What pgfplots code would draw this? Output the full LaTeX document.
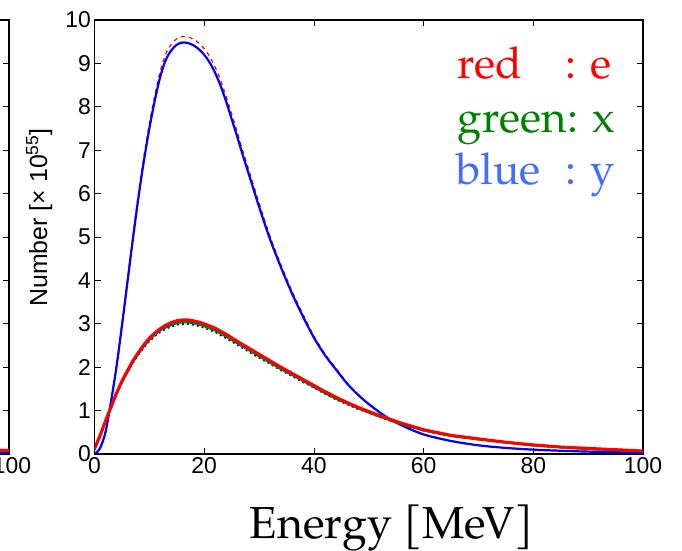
\documentclass[border=0pt]{standalone}
\usepackage{pgfplots}
\pgfplotsset{compat=1.18}
\usepackage{fontspec}
\setmainfont{TeX Gyre Pagella}
\setsansfont{Liberation Sans}
\definecolor{legblue}{RGB}{64,110,255}
\definecolor{leggreen}{RGB}{0,128,0}
\definecolor{pblue}{RGB}{0,0,255}
\definecolor{pred}{RGB}{255,0,0}
\begin{document}
\begin{tikzpicture}
\useasboundingbox (0,0) rectangle (682bp,551bp);
\pgfplotsset{
  mystyle/.style={
    scale only axis, width=548.5bp, height=434bp,
    xmin=0,xmax=100,ymin=0,ymax=10,
    xtick={0,20,...,100}, ytick={0,1,...,10},
    tick align=inside, major tick length=6bp,
    every tick/.style={black, line width=0.8bp},
    axis line style={line width=1.2bp},
    tick label style={font=\fontsize{23}{23}\selectfont\sffamily},
    /pgf/number format/assume math mode=true,
    clip=true,
  }
}
% partial neighbouring panel on the left
\begin{axis}[mystyle, at={(9bp,97bp)}, anchor=south east,
  yticklabels={}, xticklabels={,,,,,100}, xticklabel style={xshift=3bp}]
\addplot[pblue, line width=2.2bp] coordinates {(80,0.1) (90,0.055) (100,0.03)};
\addplot[pred, line width=3bp] coordinates {(80,0.21) (90,0.13) (100,0.08)};
\end{axis}
% main panel
\begin{axis}[mystyle, at={(94.5bp,97bp)}, anchor=south west,
  xlabel={Energy [MeV]},
  ylabel={Number [× 10\textsuperscript{55}]},
  xlabel style={at={(axis description cs:0.542,0)}, anchor=base, yshift=-84bp, font=\fontsize{45}{45}\selectfont},
  ylabel style={at={(axis description cs:-0.101,0.545)}, anchor=center, font=\fontsize{25}{25}\selectfont\sffamily},
]
% red dashed (upper)
\addplot[pred, line width=1.2bp, dash pattern=on 4bp off 4bp, smooth] coordinates {
(0,0) (1,0.13) (2,0.51) (3,1.22) (4,2.03) (5,2.99) (6,4.01) (7,5.02) (8,5.99) (9,6.85)
(10,7.61) (11,8.27) (12,8.83) (13,9.22) (14,9.44) (15,9.57) (16,9.62) (17,9.61) (18,9.56) (19,9.47)
(20,9.34) (21,9.16) (22,8.91) (23,8.61) (24,8.24) (25,7.84) (26,7.43) (27,7.0) (28,6.6) (30,5.79)
(32,5.02) (34,4.36) (36,3.76) (38,3.22) (40,2.72) (42,2.31) (44,1.98) (46,1.65) (48,1.38) (50,1.16)
(53,0.88) (56,0.67) (60,0.46) (65,0.3) (70,0.2) (75,0.14) (80,0.1) (90,0.055) (100,0.03)};
% blue solid (upper)
\addplot[pblue, line width=2.2bp, smooth] coordinates {
(0,0) (1,0.13) (2,0.5) (3,1.2) (4,2.0) (5,2.95) (6,3.95) (7,4.95) (8,5.9) (9,6.75)
(10,7.5) (11,8.15) (12,8.7) (13,9.08) (14,9.3) (15,9.43) (16,9.48) (17,9.47) (18,9.42) (19,9.33)
(20,9.2) (21,9.02) (22,8.78) (23,8.48) (24,8.12) (25,7.72) (26,7.32) (27,6.9) (28,6.5) (30,5.7)
(32,4.95) (34,4.3) (36,3.7) (38,3.17) (40,2.68) (42,2.28) (44,1.95) (46,1.63) (48,1.37) (50,1.15)
(53,0.87) (56,0.66) (60,0.45) (65,0.3) (70,0.2) (75,0.14) (80,0.1) (85,0.075) (90,0.055) (95,0.04) (100,0.03)};
% blue dashed (lower)
\addplot[pblue, line width=2bp, dash pattern=on 2bp off 3bp] coordinates {
(0,0.1) (1,0.4) (2,0.74) (3,1.06) (4,1.37) (5,1.65) (6,1.88) (7,2.1) (8,2.29) (9,2.45)
(10,2.6) (11,2.72) (12,2.82) (13,2.88) (14,2.94) (15,2.98) (16,3.0) (17,3.0) (18,2.98) (19,2.95)
(20,2.91) (22,2.81) (24,2.67) (26,2.52) (28,2.37) (30,2.22) (32,2.08) (34,1.93) (36,1.8) (38,1.66)
(40,1.53) (42,1.39) (44,1.26) (46,1.15) (48,1.04) (50,0.95) (53,0.81) (56,0.68) (60,0.54) (65,0.42)
(70,0.34) (80,0.2) (90,0.12) (100,0.065)};
% green solid (lower)
\addplot[leggreen, line width=2.6bp] coordinates {
(0,0.12) (1,0.42) (2,0.76) (3,1.08) (4,1.39) (5,1.67) (6,1.9) (7,2.13) (8,2.32) (9,2.49)
(10,2.64) (11,2.76) (12,2.86) (13,2.92) (14,2.98) (15,3.02) (16,3.04) (17,3.04) (18,3.02) (19,2.99)
(20,2.95) (22,2.85) (24,2.71) (26,2.56) (28,2.41) (30,2.26) (32,2.11) (34,1.96) (36,1.83) (38,1.69)
(40,1.55) (42,1.41) (44,1.28) (46,1.17) (48,1.06) (50,0.96) (53,0.82) (56,0.69) (60,0.55) (65,0.42)
(70,0.34) (80,0.2) (90,0.12) (100,0.065)};
% red solid (lower)
\addplot[pred, line width=3bp] coordinates {
(0,0.12) (1,0.42) (2,0.76) (3,1.08) (4,1.4) (5,1.68) (6,1.92) (7,2.15) (8,2.34) (9,2.52)
(10,2.67) (11,2.79) (12,2.89) (13,2.97) (14,3.03) (15,3.07) (16,3.09) (17,3.09) (18,3.07) (19,3.04)
(20,3.0) (22,2.9) (24,2.76) (26,2.6) (28,2.45) (30,2.3) (32,2.15) (34,2.0) (36,1.86) (38,1.72)
(40,1.58) (42,1.44) (44,1.31) (46,1.19) (48,1.08) (50,0.98) (53,0.84) (56,0.71) (60,0.56) (65,0.43)
(70,0.35) (75,0.27) (80,0.21) (85,0.16) (90,0.13) (95,0.1) (100,0.07)};
% text legend
\node[anchor=base west, inner sep=0pt, text=pred, font=\fontsize{44}{44}\selectfont] at (axis description cs:0.661,0.866) {red};
\node[anchor=base west, inner sep=0pt, text=pred, font=\fontsize{44}{44}\selectfont] at (axis description cs:0.858,0.866) {: e};
\node[anchor=base west, inner sep=0pt, text=leggreen, font=\fontsize{44}{44}\selectfont] at (axis description cs:0.661,0.740) {green: x};
\node[anchor=base west, inner sep=0pt, text=legblue, font=\fontsize{44}{44}\selectfont] at (axis description cs:0.659,0.620) {blue};
\node[anchor=base west, inner sep=0pt, text=legblue, font=\fontsize{44}{44}\selectfont] at (axis description cs:0.858,0.620) {: y};
\end{axis}
\end{tikzpicture}
\end{document}
